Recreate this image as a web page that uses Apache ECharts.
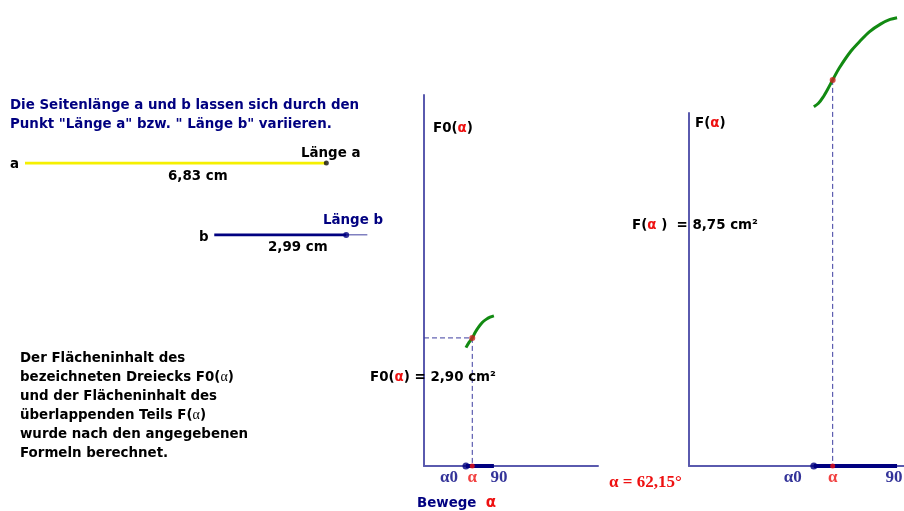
<!DOCTYPE html>
<html><head><meta charset="utf-8">
<script src="https://cdn.jsdelivr.net/npm/echarts@6/dist/echarts.min.js"></script>
<style>html,body{margin:0;padding:0;background:#fff}#c{width:904px;height:511px}</style>
</head><body><div id="c"></div>
<script>
// ---- data ----
const alpha = 62.15;          // current angle (deg)
const alpha0 = 54;            // start of slider (deg)
const alphaMax = 90;          // end of slider (deg)
const F0Val = 2.90;           // F0(alpha) in cm²
const FVal = 8.75;            // F(alpha) in cm²
const lenA = 6.83;            // length a in cm
const lenB = 2.99;            // length b in cm
const F0Curve = [[54,2.68],[58,2.80],[62.15,2.90],[66,3.03],[70,3.14],[75,3.25],[80,3.32],[85,3.37],[90,3.40]];
const FCurve = [[54,8.14],[56,8.22],[58,8.36],[60,8.54],[62.15,8.75],[65,9.02],[70,9.40],[74,9.63],[78,9.84],[83,10.02],[87,10.12],[90,10.16]];
const axisLabels = ['α0','α','90'];

// ---- layout ----
const bStart = 4.29, bExt = 0.48;
const NAVY = '#000080', AXIS = '#5a5aae', GREEN = '#128a12', RED = '#ee1111', DASH = '#3d3da0';
const SANS = '"DejaVu Sans", Verdana, sans-serif';
const SERIF = '"Liberation Serif", "Times New Roman", serif';
const B13 = 'bold 13.4px ' + SANS;
const DY = 1.5;

const chart = echarts.init(document.getElementById('c'), null, {renderer:'canvas'});

function axisSet(gi, xmax, ymax, show){
  return {
    x:{gridIndex:gi, type:'value', min:0, max:xmax, axisLine:{show:show,onZero:false,lineStyle:{color:AXIS,width:2}}, axisTick:{show:false}, axisLabel:{show:false}, splitLine:{show:false}},
    y:{gridIndex:gi, type:'value', min:0, max:ymax, axisLine:{show:show,onZero:false,lineStyle:{color:AXIS,width:2}}, axisTick:{show:false}, axisLabel:{show:false}, splitLine:{show:false}}
  };
}
const a0 = axisSet(0, 224, 8.4, true);
const a1 = axisSet(1, 93.0, 8.0, true);
const a2 = axisSet(2, 8.16, 1, false);

function plotSeries(idx, curve, val, withH, lab){
  const s = [];
  s.push({type:'line', xAxisIndex:idx, yAxisIndex:idx, data:curve, smooth:0.3, showSymbol:false, clip:false, lineStyle:{color:GREEN,width:3}, z:3});
  if (withH) s.push({type:'line', xAxisIndex:idx, yAxisIndex:idx, data:[[0,val],[alpha,val]], showSymbol:false, lineStyle:{color:DASH,width:1,type:[5,3]}, z:2});
  s.push({type:'line', xAxisIndex:idx, yAxisIndex:idx, data:[[alpha,val],[alpha,0]], showSymbol:false, clip:false, lineStyle:{color:DASH,width:1,type:[5,3]}, z:2});
  s.push({type:'line', xAxisIndex:idx, yAxisIndex:idx, data:[[alpha0,0],[alphaMax,0]], showSymbol:false, lineStyle:{color:NAVY,width:4}, z:4});
  s.push({type:'scatter', xAxisIndex:idx, yAxisIndex:idx, symbolSize:7, itemStyle:{color:NAVY}, data:[[alpha0,0]], z:5});
  s.push({type:'scatter', xAxisIndex:idx, yAxisIndex:idx, symbolSize:5, itemStyle:{color:RED}, data:[[alpha,0]], z:6});
  s.push({type:'scatter', xAxisIndex:idx, yAxisIndex:idx, symbolSize:6, clip:false, itemStyle:{color:'#cc2222'}, data:[[alpha,val]], z:6});
  s.push({type:'scatter', xAxisIndex:idx, yAxisIndex:idx, symbolSize:0, silent:true,
    data:[
      {value:[alpha0,0], label:{formatter:axisLabels[0], offset:[lab[0],12], color:NAVY}},
      {value:[alpha,0], label:{formatter:axisLabels[1], offset:[0,12], color:RED}},
      {value:[alphaMax,0], label:{formatter:axisLabels[2], offset:[lab[1],12], color:NAVY}}
    ],
    label:{show:true, position:'inside', fontFamily:SERIF, fontWeight:'bold', fontSize:17}, z:7});
  return s;
}

const series = [].concat(
  plotSeries(0, F0Curve, F0Val, true, [-17, 5]),
  plotSeries(1, FCurve, FVal, false, [-21, -3]),
  [
    {type:'line', xAxisIndex:2, yAxisIndex:2, data:[[0,1],[lenA,1]], showSymbol:false, lineStyle:{color:'#f5f000',width:3}, z:3},
    {type:'scatter', xAxisIndex:2, yAxisIndex:2, data:[[lenA,1]], symbolSize:5, itemStyle:{color:'#111'}, z:4},
    {type:'line', xAxisIndex:2, yAxisIndex:2, data:[[bStart,0],[bStart+lenB,0]], showSymbol:false, lineStyle:{color:NAVY,width:3}, z:3},
    {type:'line', xAxisIndex:2, yAxisIndex:2, data:[[bStart+lenB,0],[bStart+lenB+bExt,0]], showSymbol:false, lineStyle:{color:NAVY,width:1}, z:3},
    {type:'scatter', xAxisIndex:2, yAxisIndex:2, data:[[bStart+lenB,0]], symbolSize:6, itemStyle:{color:NAVY}, z:4}
  ]
);

function txt(x, y, text, opt){
  opt = opt || {};
  return {type:'text', x:x, y:y + DY, z:20, style:Object.assign({text:text, font:B13, fill:'#000', verticalAlign:'middle', align:'left'}, opt)};
}
const richK = {k:{font:B13, fill:'#000'}, r:{font:B13, fill:RED}, n:{font:B13, fill:NAVY}, nr:{font:'bold 15px '+SANS, fill:RED}, s:{font:'14px '+SERIF, fill:'#000'}};

const graphic = [
  txt(10, 104, 'Die Seitenlänge a und b lassen sich durch den', {fill:NAVY}),
  txt(10, 123, 'Punkt "Länge a" bzw. " Länge b" variieren.', {fill:NAVY}),
  txt(10, 163, 'a'),
  txt(301, 152, 'Länge a'),
  txt(168, 175, '6,83 cm'),
  txt(199, 236, 'b'),
  txt(323, 219, 'Länge b', {fill:NAVY}),
  txt(268, 246, '2,99 cm'),
  txt(433, 127, '{k|F0(}{r|α}{k|)}', {rich:richK}),
  txt(370, 376, '{k|F0(}{r|α}{k|) = 2,90 cm²}', {rich:richK}),
  txt(695, 122, '{k|F(}{r|α}{k|)}', {rich:richK}),
  txt(632, 224, '{k|F(}{r|α}{k| )  = 8,75 cm²}', {rich:richK}),
  txt(609, 481, 'α = 62,15°', {font:'bold 17px '+SERIF, fill:RED}),
  txt(417, 502, '{n|Bewege  }{nr|α}', {rich:richK}),
  txt(20, 357, 'Der Flächeninhalt des'),
  txt(20, 376, '{k|bezeichneten Dreiecks F0(}{s|α}{k|)}', {rich:richK}),
  txt(20, 395, 'und der Flächeninhalt des'),
  txt(20, 414, '{k|überlappenden Teils F(}{s|α}{k|)}', {rich:richK}),
  txt(20, 433, 'wurde nach den angegebenen'),
  txt(20, 452, 'Formeln berechnet.')
];

chart.setOption({
  animation:false,
  backgroundColor:'#fff',
  grid:[
    {left:424, top:95, width:174, height:371},
    {left:689, top:113, width:215, height:353},
    {left:25, top:163, width:360, height:72}
  ],
  xAxis:[a0.x, a1.x, a2.x],
  yAxis:[a0.y, a1.y, a2.y],
  series:series,
  graphic:graphic
});
</script></body></html>
